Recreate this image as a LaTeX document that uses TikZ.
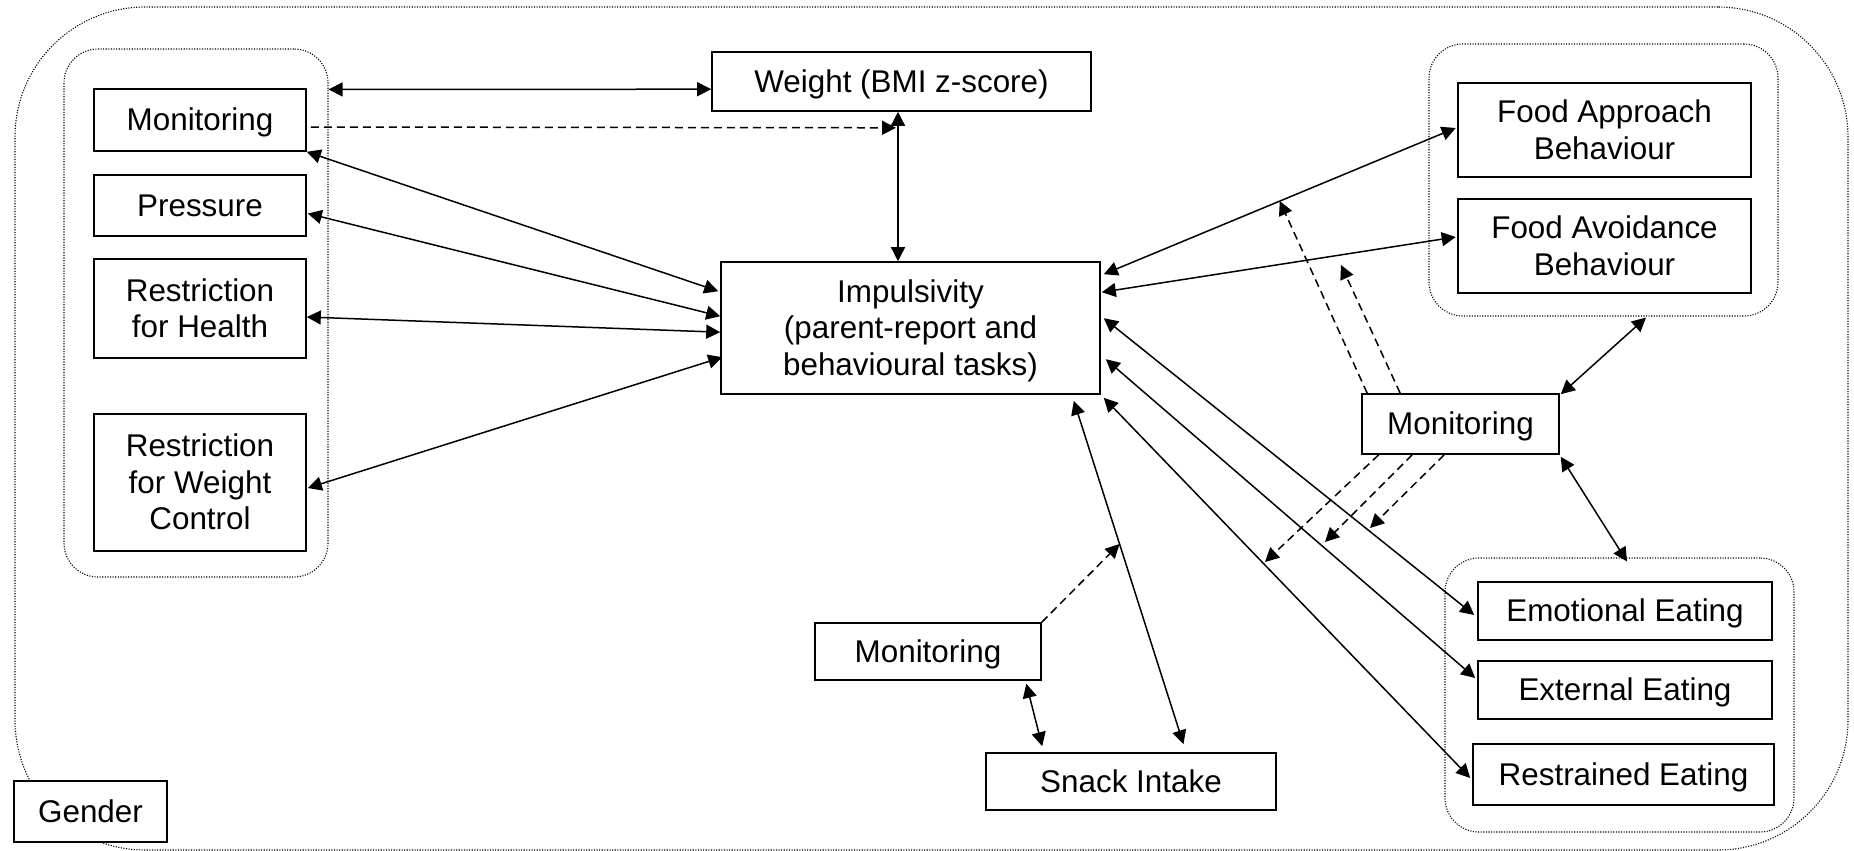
\documentclass[tikz,border=0pt]{standalone}
\usepackage{fontspec}
\setmainfont{Liberation Sans}
\usetikzlibrary{arrows.meta,calc}
% line strut with the ascent and descent of the text face
\newcommand{\boxstrut}{\rule[-3.33pt]{0pt}{17.53pt}}
\begin{document}
\begin{tikzpicture}[x=0.5pt,y=-0.5pt,
  >={Triangle[length=7pt,width=7pt]},
  box/.style 2 args={draw, fill=white, line width=0.8pt,
    minimum width=#1*0.5pt, minimum height=#2*0.5pt,
    inner sep=0pt, align=center, font=\fontsize{15.7}{18.3}\selectfont,
    execute at begin node=\boxstrut, execute at end node=\boxstrut},
  grp/.style 2 args={draw, line width=0.55pt, dash pattern=on 0.55pt off 0.75pt,
    rounded corners=17pt, minimum width=#1*0.5pt, minimum height=#2*0.5pt,
    inner sep=0pt},
  both/.style={<->, line width=0.75pt},
  dsh/.style={->, line width=0.75pt, dash pattern=on 4pt off 2.5pt},
]
\useasboundingbox (0,0) rectangle (1854,851);

% dotted groupings
\node[grp={1833}{843}, rounded corners=65pt] (outer) at (931.5,428.5) {};
\node[grp={264}{528}] (leftgrp) at (196,313) {};
\node[grp={349}{272}] (favgrp) at (1603.5,180) {};
\node[grp={349}{274}] (eatgrp) at (1619.5,695) {};

% parenting practices
\node[box={212}{62}] (monL) at (200,120) {Monitoring};
\node[box={212}{61}] (pressure) at (200,205.5) {Pressure};
\node[box={212}{99}] (rhealth) at (200,308.5) {\boxstrut Restriction\\for Health};
\node[box={212}{137}] (rweight) at (200,482.5) {\boxstrut Restriction\\for Weight\\Control};
\node[box={153}{61}] (gender) at (90.5,811.5) {Gender};

% central constructs
\node[box={379}{59}] (weight) at (901.5,81.5) {Weight (BMI z-score)};
\node[box={379}{132}] (imp) at (910.5,328) {\boxstrut Impulsivity\\(parent-report and\\behavioural tasks)};

% eating behaviours
\node[box={293}{94}] (fapp) at (1604.5,130) {\boxstrut Food Approach\\Behaviour};
\node[box={293}{94}] (favoid) at (1604.5,246) {\boxstrut Food Avoidance\\Behaviour};
\node[box={197}{60}] (monR) at (1460.5,424) {Monitoring};
\node[box={294}{58}] (emo) at (1625,611) {Emotional Eating};
\node[box={294}{58}] (ext) at (1625,690) {External Eating};
\node[box={301}{61}] (restr) at (1623.5,774.5) {Restrained Eating};

% snack intake
\node[box={226}{57}] (monB) at (928,651.5) {Monitoring};
\node[box={290}{57}] (snack) at (1131,781.5) {Snack Intake};

% left-hand associations
\draw[both] ($(leftgrp.north east)+(0,41)$) -- ($(weight.north west)+(0,38)$);
\draw[both] ($(weight.south)+(-3.5,0)$) coordinate (wv) -- (wv |- imp.north);
\coordinate (wtip) at ($(wv)+(-2,16)$);
\draw[dsh] ($(monL.east)+(4,7)$) -- (wtip);
\draw[both] (monL.south east) -- ($(imp.north west)+(-2,30)$);
\draw[both] ($(pressure.east)+(1,8)$) -- ($(imp.north west)+(0,55)$);
\draw[both] ($(rhealth.east)+(0,8.5)$) -- ($(imp.north west)+(0,71)$);
\draw[both] ($(rweight.east)+(1,5.5)$) -- ($(imp.north west)+(2,96)$);

% right-hand associations
\draw[both] ($(imp.north east)+(3,13)$) -- coordinate[pos=0.5] (apptip) ($(fapp.west)+(-1.5,-2)$);
\draw[both] ($(imp.north east)+(1,31)$) -- ($(favoid.west)+(-1.5,-9)$);
\draw[both] ($(imp.north east)+(3,57)$) -- ($(emo.west)+(-3,4)$);
\draw[both] ($(imp.north east)+(5,98)$) -- ($(ext.west)+(-2,-12)$);
\draw[both] ($(imp.south east)+(3,3)$) -- ($(restr.west)+(-2,3.5)$);
\draw[both] ($(imp.south east)+(-27,6)$) -- coordinate[pos=0.417] (snktip) ($(snack.north)+(52.5,-8)$);

% moderation by monitoring
\coordinate (avtip) at (1341,265);
\coordinate (emotip) at (1370,528);
\coordinate (exttip) at (1325,542);
\coordinate (restip) at (1265,562);
\draw[dsh] ($(monR.north west)+(6,0)$) -- (apptip);
\draw[dsh] ($(monR.north west)+(39,0)$) -- (avtip);
\draw[dsh] ($(monR.south west)+(17.5,0)$) -- (restip);
\draw[dsh] ($(monR.south west)+(51,0)$) -- (exttip);
\draw[dsh] ($(monR.south west)+(83,0)$) -- (emotip);
\draw[both] ($(monR.north east)+(1,1)$) -- ($(favgrp.south)+(42.5,1)$);
\draw[both] ($(monR.south east)+(1,2)$) -- ($(eatgrp.north)+(7.5,4)$);
\draw[dsh] (monB.north east) -- (snktip);
\draw[both] ($(monB.south east)+(-15.5,3)$) -- ($(snack.north west)+(57,-6)$);
\end{tikzpicture}
\end{document}
